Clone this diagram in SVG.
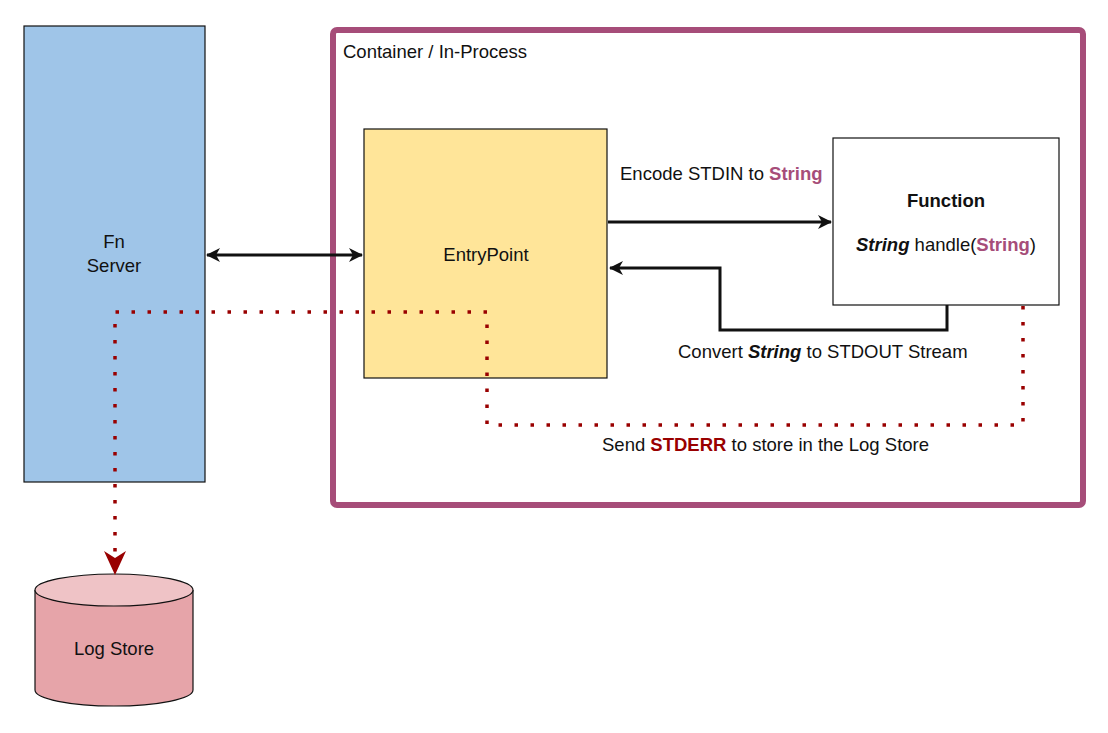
<svg xmlns="http://www.w3.org/2000/svg" width="1108" height="733" viewBox="0 0 1108 733">
<defs>
<style>
text{font-family:"Liberation Sans",Arial,sans-serif;font-size:18.5px;fill:#111}
.b{font-weight:bold}
.i{font-style:italic}
.pk{fill:#a64d79;font-weight:bold}
.rd{fill:#990000;font-weight:bold}
.box{stroke:#111;stroke-width:1.2}
.solid{fill:none;stroke:#111;stroke-width:3}
.dot{fill:none;stroke:#990000;stroke-width:3.5;stroke-dasharray:3.5 12.5}
</style>
<marker id="ah" viewBox="0 0 14 14" refX="13" refY="7" markerWidth="14" markerHeight="14" markerUnits="userSpaceOnUse" orient="auto-start-reverse">
<path d="M0,0 L14,7 L0,14 L4,7 Z" fill="#111"/>
</marker>
<marker id="ahr" viewBox="0 0 24 22" refX="23" refY="11" markerWidth="24" markerHeight="22" markerUnits="userSpaceOnUse" orient="auto">
<path d="M0,0 L24,11 L0,22 L7,11 Z" fill="#990000"/>
</marker>
</defs>
<rect width="1108" height="733" fill="#fff"/>
<g id="container">
<rect x="333" y="30" width="750" height="475" rx="4" fill="none" stroke="#a64d79" stroke-width="6"/>
<text x="343" y="58">Container / In-Process</text>
</g>
<g id="fn-server">
<rect class="box" x="24" y="26" width="181" height="456" fill="#9fc5e8"/>
<text x="114" y="248" text-anchor="middle">Fn</text>
<text x="114" y="272" text-anchor="middle">Server</text>
</g>
<g id="entrypoint">
<rect class="box" x="364" y="129" width="243" height="249" fill="#ffe599"/>
<text x="486" y="261" text-anchor="middle">EntryPoint</text>
</g>
<g id="function">
<rect class="box" x="833" y="138" width="226" height="167" fill="#fff"/>
<text x="946" y="207" text-anchor="middle" class="b">Function</text>
<text x="946" y="251" text-anchor="middle"><tspan class="b i">String</tspan> handle(<tspan class="pk">String</tspan>)</text>
</g>
<g id="log-store">
<path class="box" d="M35,590 L35,690 A79,16 0 0 0 193,690 L193,590" fill="#e6a4a9"/>
<ellipse class="box" cx="114" cy="590" rx="79" ry="16" fill="#efc3c6"/>
<text x="114" y="655" text-anchor="middle">Log Store</text>
</g>
<g id="connectors">
<line class="solid" x1="207" y1="255" x2="362" y2="255" marker-start="url(#ah)" marker-end="url(#ah)"/>
<line class="solid" x1="608" y1="222" x2="831" y2="222" marker-end="url(#ah)"/>
<polyline class="solid" points="947,305 947,330 720,330 720,268 610,268" marker-end="url(#ah)"/>
<polyline class="dot" points="1023,306 1023,425 487,425 487,312 115,312 115,574" marker-end="url(#ahr)"/>
<text x="620" y="180">Encode STDIN to <tspan class="pk">String</tspan></text>
<text x="678" y="358">Convert <tspan class="b i">String</tspan> to STDOUT Stream</text>
<text x="602" y="451">Send <tspan class="rd">STDERR</tspan> to store in the Log Store</text>
</g>
</svg>
